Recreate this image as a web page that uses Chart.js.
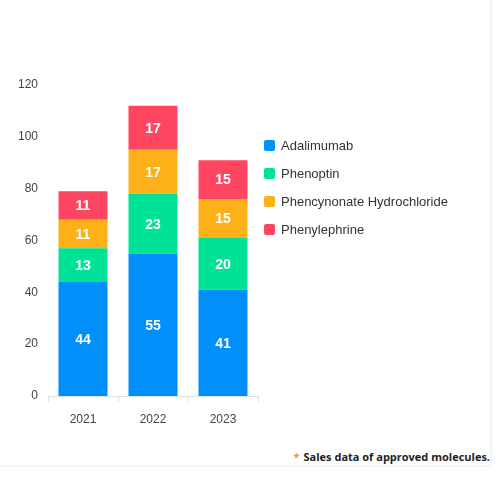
<!DOCTYPE html>
<html>
<head>
<meta charset="utf-8">
<script src="https://cdn.jsdelivr.net/npm/chart.js@4"></script>
<style>
  html, body { margin: 0; padding: 0; background: #fff; }
  .card {
    position: absolute; left: 0; top: 0; width: 490px; height: 465px;
    background: #fff; box-shadow: 1px 1px 4px rgba(0, 0, 0, 0.08);
  }
  .chart-box { position: absolute; left: 0; top: 0; width: 270px; height: 440px; }
  .legend {
    position: absolute; left: 264px; top: 138px; margin: 0; padding: 0; list-style: none;
    font: 13px "Liberation Sans", Arial, sans-serif; color: #333;
  }
  .legend li { height: 28px; display: flex; align-items: flex-start; }
  .legend span.box {
    display: inline-block; width: 11px; height: 11px; border-radius: 2px;
    margin: 2px 6px 0 0;
  }
  .note {
    position: absolute; right: 0px; top: 449px;
    font: bold 11px "Open Sans", sans-serif; color: #222;
  }
  .note .star { color: #f7941d; margin-right: 4px; }
</style>
</head>
<body>
<div class="card">
  <div class="chart-box"><canvas id="salesChart"></canvas></div>
  <ul class="legend" id="legend"></ul>
  <div class="note"><span class="star">*</span>Sales data of approved molecules.</div>
</div>
<script>
'use strict';

const years = ['2021', '2022', '2023'];
const seriesNames = ['Adalimumab', 'Phenoptin', 'Phencynonate Hydrochloride', 'Phenylephrine'];
const adalimumab = [44, 55, 41];
const phenoptin = [13, 23, 20];
const phencynonate = [11, 17, 15];
const phenylephrine = [11, 17, 15];
const yTicks = [0, 20, 40, 60, 80, 100, 120];
const colors = ['#008FFB', '#00E396', '#FEB019', '#FF4560'];

const seriesValues = [adalimumab, phenoptin, phencynonate, phenylephrine];

// value labels drawn in the middle of each stacked segment
const barLabels = {
  id: 'barLabels',
  afterDatasetsDraw(chart) {
    const ctx = chart.ctx;
    ctx.save();
    ctx.fillStyle = '#fff';
    ctx.font = 'bold 14px "Liberation Sans", Arial, sans-serif';
    ctx.textAlign = 'center';
    ctx.textBaseline = 'middle';
    chart.data.datasets.forEach(function (ds, i) {
      const meta = chart.getDatasetMeta(i);
      meta.data.forEach(function (bar, j) {
        const mid = (bar.y + bar.base) / 2;
        ctx.fillText(String(ds.data[j]), bar.x, mid + 1);
      });
    });
    ctx.restore();
  }
};

const legend = document.getElementById('legend');
seriesNames.forEach(function (name, i) {
  const li = document.createElement('li');
  const box = document.createElement('span');
  box.className = 'box';
  box.style.background = colors[i];
  li.appendChild(box);
  li.appendChild(document.createTextNode(name));
  legend.appendChild(li);
});

const tickFont = { family: '"Liberation Sans", Arial, sans-serif', size: 12 };

new Chart(document.getElementById('salesChart'), {
  type: 'bar',
  data: {
    labels: years,
    datasets: seriesNames.map(function (name, i) {
      return {
        label: name,
        data: seriesValues[i],
        backgroundColor: colors[i],
        borderWidth: 0,
        categoryPercentage: 0.7,
        barPercentage: 1.0
      };
    })
  },
  options: {
    responsive: true,
    maintainAspectRatio: false,
    animation: false,
    layout: { padding: { top: 85, right: 12, bottom: 14, left: 0 } },
    plugins: {
      legend: { display: false },
      tooltip: { enabled: false }
    },
    scales: {
      x: {
        stacked: true,
        grid: { display: true, drawOnChartArea: false, drawTicks: true, tickLength: 6, color: '#e0e0e0' },
        border: { display: true, color: '#e0e0e0' },
        ticks: { color: '#444', font: tickFont, padding: 10 },
        afterFit(scale) { scale.height = 30; }
      },
      y: {
        stacked: true,
        min: 0,
        max: 120,
        grid: { display: false, drawTicks: false },
        border: { display: false },
        afterBuildTicks(scale) { scale.ticks = yTicks.map(function (v) { return { value: v }; }); },
        ticks: { color: '#444', font: tickFont, padding: 10 },
        afterFit(scale) { scale.width = 48; }
      }
    }
  },
  plugins: [barLabels]
});
</script>
</body>
</html>
